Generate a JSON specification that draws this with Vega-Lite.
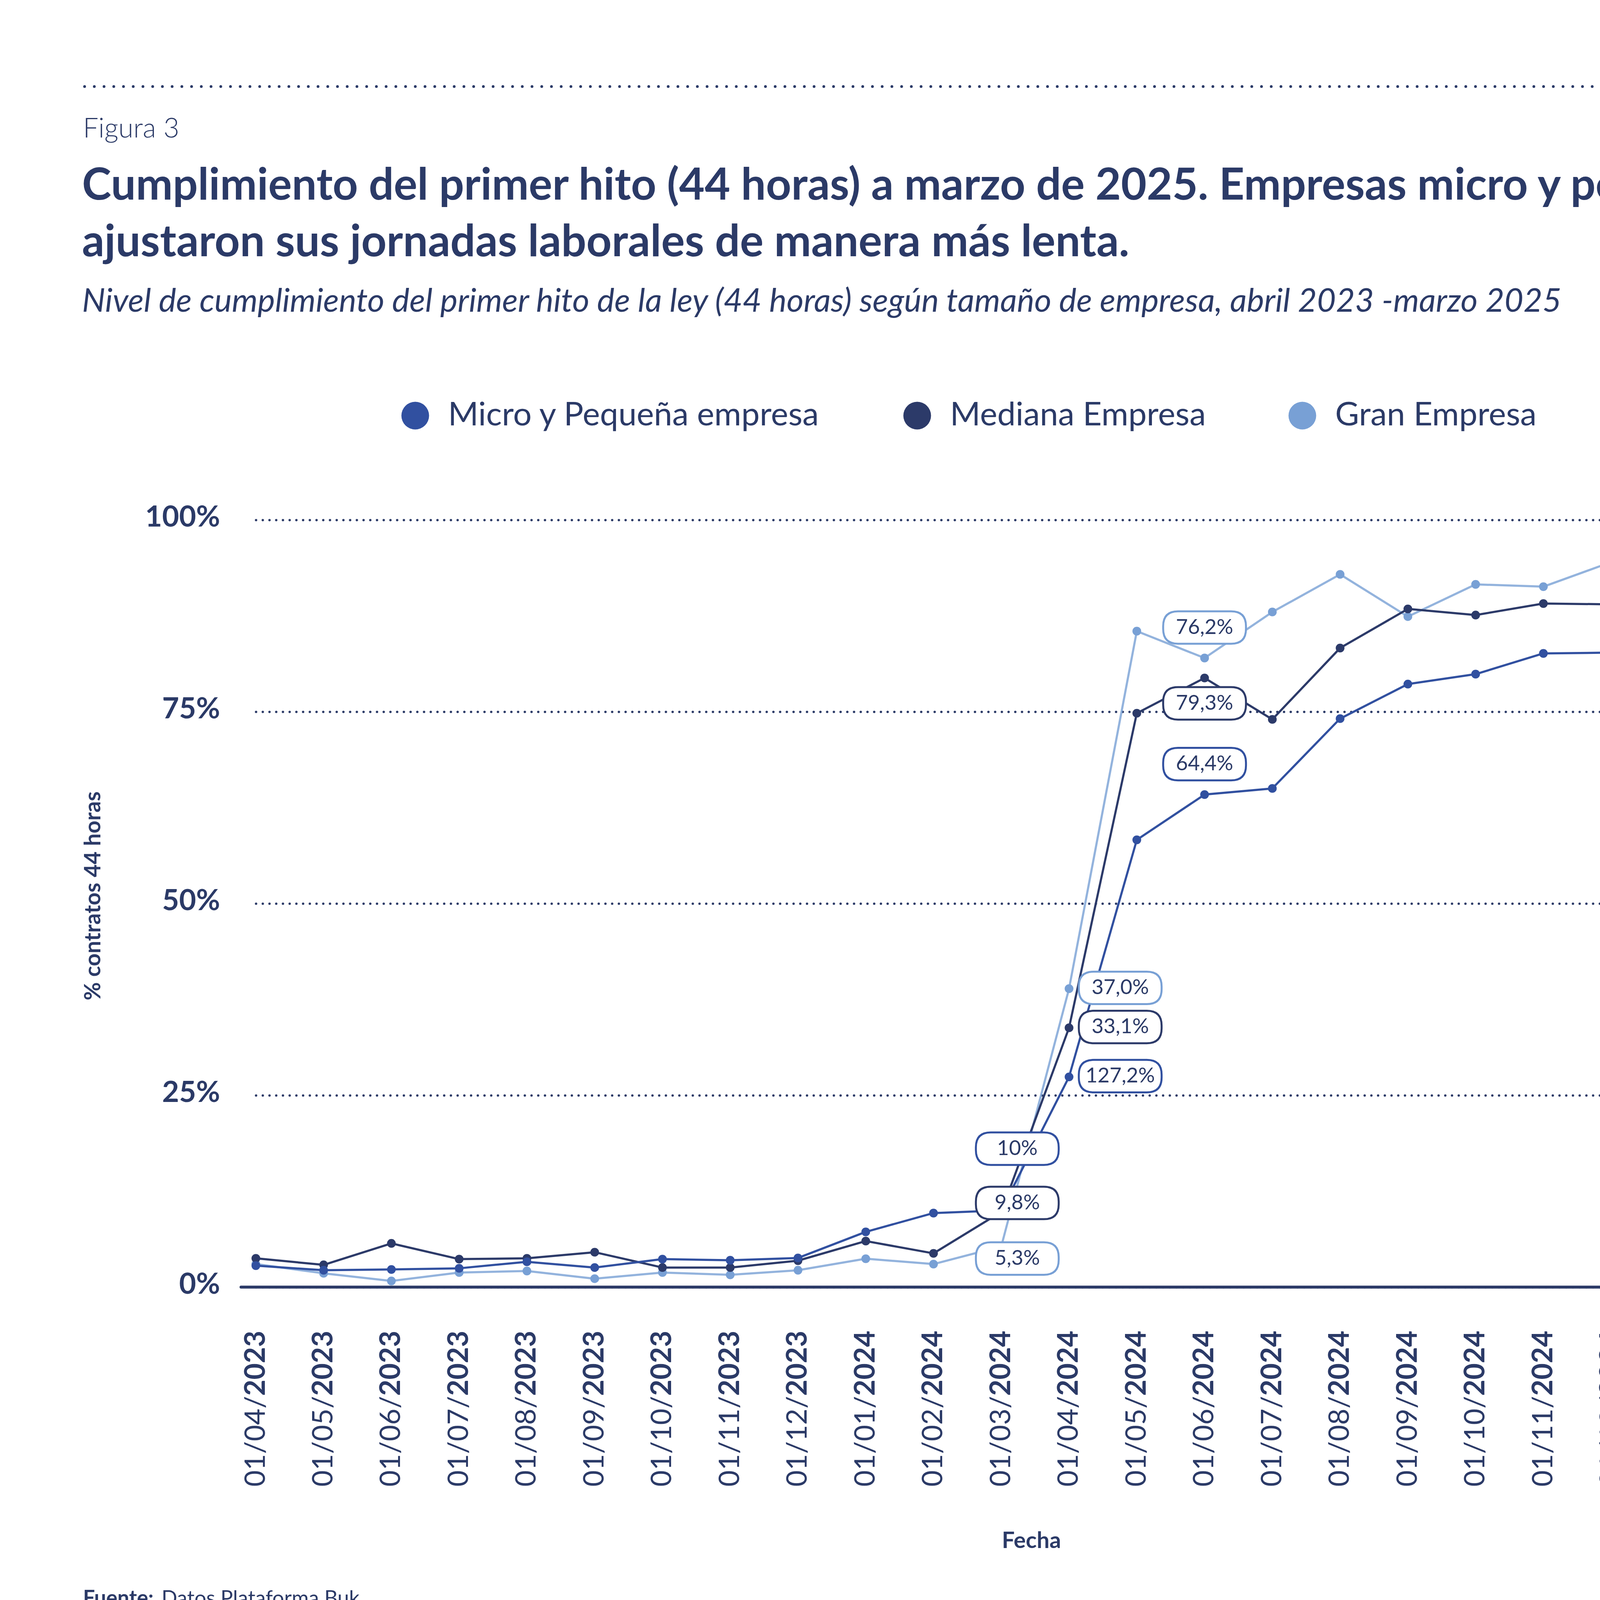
{
  "$schema": "https://vega.github.io/schema/vega-lite/v6.json",
  "background": "white",
  "autosize": {"type": "none"},
  "padding": {"left": 617, "top": 1331, "right": 338, "bottom": 1074},
  "width": 4045,
  "height": 1964,
  "config": {
    "font": "Lato",
    "view": {"stroke": null},
    "axis": {"labelColor": "#2B3A67", "titleColor": "#2B3A67", "labelLimit": 0}
  },
  "title": {
    "text": ["Cumplimiento del primer hito (44 horas) a marzo de 2025. Empresas micro y pequeñas", "ajustaron sus jornadas laborales de manera más lenta."],
    "subtitle": "Nivel de cumplimiento del primer hito de la ley (44 horas) según tamaño de empresa, abril 2023 -marzo 2025",
    "anchor": "start", "frame": "group", "dx": -407,
    "fontSize": 113, "fontWeight": "bold", "lineHeight": 145, "color": "#2B3A67",
    "subtitleFontSize": 84, "subtitleFontStyle": "italic", "subtitleColor": "#2B3A67", "subtitlePadding": 52,
    "offset": -595
  },
  "data": {"values": [
    {"fecha":"01/04/2023","serie":"Gran Empresa","valor":3.0},
    {"fecha":"01/05/2023","serie":"Gran Empresa","valor":1.8},
    {"fecha":"01/06/2023","serie":"Gran Empresa","valor":0.8},
    {"fecha":"01/07/2023","serie":"Gran Empresa","valor":1.9},
    {"fecha":"01/08/2023","serie":"Gran Empresa","valor":2.1},
    {"fecha":"01/09/2023","serie":"Gran Empresa","valor":1.1},
    {"fecha":"01/10/2023","serie":"Gran Empresa","valor":1.9},
    {"fecha":"01/11/2023","serie":"Gran Empresa","valor":1.6},
    {"fecha":"01/12/2023","serie":"Gran Empresa","valor":2.2},
    {"fecha":"01/01/2024","serie":"Gran Empresa","valor":3.7},
    {"fecha":"01/02/2024","serie":"Gran Empresa","valor":3.0},
    {"fecha":"01/03/2024","serie":"Gran Empresa","valor":5.3,"etiqueta":"5,3%"},
    {"fecha":"01/04/2024","serie":"Gran Empresa","valor":38.9,"etiqueta":"37,0%"},
    {"fecha":"01/05/2024","serie":"Gran Empresa","valor":85.5},
    {"fecha":"01/06/2024","serie":"Gran Empresa","valor":82.0,"etiqueta":"76,2%"},
    {"fecha":"01/07/2024","serie":"Gran Empresa","valor":88.0},
    {"fecha":"01/08/2024","serie":"Gran Empresa","valor":92.9},
    {"fecha":"01/09/2024","serie":"Gran Empresa","valor":87.4},
    {"fecha":"01/10/2024","serie":"Gran Empresa","valor":91.6},
    {"fecha":"01/11/2024","serie":"Gran Empresa","valor":91.3},
    {"fecha":"01/12/2024","serie":"Gran Empresa","valor":94.5},
    {"fecha":"01/01/2025","serie":"Gran Empresa","valor":93.3},
    {"fecha":"01/02/2025","serie":"Gran Empresa","valor":93.4},
    {"fecha":"01/03/2025","serie":"Gran Empresa","valor":95.3,"etiqueta":"95,2%"},
    {"fecha":"01/04/2023","serie":"Mediana Empresa","valor":3.75},
    {"fecha":"01/05/2023","serie":"Mediana Empresa","valor":2.9},
    {"fecha":"01/06/2023","serie":"Mediana Empresa","valor":5.7},
    {"fecha":"01/07/2023","serie":"Mediana Empresa","valor":3.65},
    {"fecha":"01/08/2023","serie":"Mediana Empresa","valor":3.75},
    {"fecha":"01/09/2023","serie":"Mediana Empresa","valor":4.55},
    {"fecha":"01/10/2023","serie":"Mediana Empresa","valor":2.55},
    {"fecha":"01/11/2023","serie":"Mediana Empresa","valor":2.55},
    {"fecha":"01/12/2023","serie":"Mediana Empresa","valor":3.45},
    {"fecha":"01/01/2024","serie":"Mediana Empresa","valor":6.0},
    {"fecha":"01/02/2024","serie":"Mediana Empresa","valor":4.4},
    {"fecha":"01/03/2024","serie":"Mediana Empresa","valor":9.8,"etiqueta":"9,8%"},
    {"fecha":"01/04/2024","serie":"Mediana Empresa","valor":33.8,"etiqueta":"33,1%"},
    {"fecha":"01/05/2024","serie":"Mediana Empresa","valor":74.8},
    {"fecha":"01/06/2024","serie":"Mediana Empresa","valor":79.4,"etiqueta":"79,3%"},
    {"fecha":"01/07/2024","serie":"Mediana Empresa","valor":74.0},
    {"fecha":"01/08/2024","serie":"Mediana Empresa","valor":83.3},
    {"fecha":"01/09/2024","serie":"Mediana Empresa","valor":88.4},
    {"fecha":"01/10/2024","serie":"Mediana Empresa","valor":87.6},
    {"fecha":"01/11/2024","serie":"Mediana Empresa","valor":89.1},
    {"fecha":"01/12/2024","serie":"Mediana Empresa","valor":89.0},
    {"fecha":"01/01/2025","serie":"Mediana Empresa","valor":84.1},
    {"fecha":"01/02/2025","serie":"Mediana Empresa","valor":90.6},
    {"fecha":"01/03/2025","serie":"Mediana Empresa","valor":90.3,"etiqueta":"90,0%"},
    {"fecha":"01/04/2023","serie":"Micro y Pequeña empresa","valor":2.8},
    {"fecha":"01/05/2023","serie":"Micro y Pequeña empresa","valor":2.2},
    {"fecha":"01/06/2023","serie":"Micro y Pequeña empresa","valor":2.3},
    {"fecha":"01/07/2023","serie":"Micro y Pequeña empresa","valor":2.45},
    {"fecha":"01/08/2023","serie":"Micro y Pequeña empresa","valor":3.3},
    {"fecha":"01/09/2023","serie":"Micro y Pequeña empresa","valor":2.55},
    {"fecha":"01/10/2023","serie":"Micro y Pequeña empresa","valor":3.65},
    {"fecha":"01/11/2023","serie":"Micro y Pequeña empresa","valor":3.5},
    {"fecha":"01/12/2023","serie":"Micro y Pequeña empresa","valor":3.8},
    {"fecha":"01/01/2024","serie":"Micro y Pequeña empresa","valor":7.2},
    {"fecha":"01/02/2024","serie":"Micro y Pequeña empresa","valor":9.65},
    {"fecha":"01/03/2024","serie":"Micro y Pequeña empresa","valor":10.0,"etiqueta":"10%"},
    {"fecha":"01/04/2024","serie":"Micro y Pequeña empresa","valor":27.4,"etiqueta":"127,2%"},
    {"fecha":"01/05/2024","serie":"Micro y Pequeña empresa","valor":58.3},
    {"fecha":"01/06/2024","serie":"Micro y Pequeña empresa","valor":64.2,"etiqueta":"64,4%"},
    {"fecha":"01/07/2024","serie":"Micro y Pequeña empresa","valor":65.0},
    {"fecha":"01/08/2024","serie":"Micro y Pequeña empresa","valor":74.1},
    {"fecha":"01/09/2024","serie":"Micro y Pequeña empresa","valor":78.6},
    {"fecha":"01/10/2024","serie":"Micro y Pequeña empresa","valor":79.9},
    {"fecha":"01/11/2024","serie":"Micro y Pequeña empresa","valor":82.6},
    {"fecha":"01/12/2024","serie":"Micro y Pequeña empresa","valor":82.7},
    {"fecha":"01/01/2025","serie":"Micro y Pequeña empresa","valor":74.1},
    {"fecha":"01/02/2025","serie":"Micro y Pequeña empresa","valor":83.4},
    {"fecha":"01/03/2025","serie":"Micro y Pequeña empresa","valor":84.4,"etiqueta":"84,8%"}
  ]},
  "layer": [
    {
      "data": {"values": [{}]},
      "mark": {"type": "rule", "opacity": 0},
      "encoding": {
        "x": {"datum": 0.5, "type": "quantitative", "scale": {"domain": [0, 1], "range": [-401, 4161]},
          "axis": {"orient": "top", "offset": 1110, "labels": false, "ticks": false, "grid": false,
            "domain": true, "domainColor": "#2B3A67", "domainWidth": 7, "domainDash": [0.1, 24.8], "domainCap": "round",
            "title": "Figura 3", "titleFontSize": 70, "titleFontWeight": 300, "titleX": -405, "titleY": 130, "titleAlign": "left", "titleBaseline": "alphabetic", "titleAngle": 0}}
      }
    },
    {
      "mark": {"type": "line", "strokeWidth": 5.5, "strokeCap": "round", "strokeJoin": "round"},
      "encoding": {
        "x": {"field": "fecha", "type": "ordinal", "sort": null,
          "scale": {"type": "point", "domain": ["01/04/2023","01/05/2023","01/06/2023","01/07/2023","01/08/2023","01/09/2023","01/10/2023","01/11/2023","01/12/2023","01/01/2024","01/02/2024","01/03/2024","01/04/2024","01/05/2024","01/06/2024","01/07/2024","01/08/2024","01/09/2024","01/10/2024","01/11/2024","01/12/2024","01/01/2025","01/02/2025","01/03/2025"], "range": [38, 4028], "padding": 0},
          "axis": {"orient": "bottom", "labelExpr": "slice(datum.label, 6)", "labelAngle": 270, "labelAlign": "right", "labelBaseline": "middle", "labelFontWeight": "bold", "labelFontSize": 72, "labelPadding": 111, "ticks": false, "domain": false, "grid": false, "labelOverlap": false, "labelBound": false, "labelFlush": false,
            "title": "Fecha", "titleFontSize": 58, "titleFontWeight": "bold", "titleX": 2023, "titleY": 667, "titleBaseline": "alphabetic", "titleAlign": "center"}},
        "y": {"field": "valor", "type": "quantitative", "scale": {"domain": [0, 100], "nice": false, "zero": true},
          "axis": {"orient": "left", "values": [0, 25, 50, 75, 100], "labelExpr": "datum.value + '%'", "labelFontWeight": "bold", "labelFontSize": 75, "labelPadding": 54, "labelBaseline": "alphabetic", "labelOffset": 16, "ticks": false, "domain": false,
            "grid": true, "gridColor": "#2B3A67", "gridDash": [0.1, 17.1], "gridWidth": 6, "gridCap": "round", "gridOpacity": 1,
            "title": "% contratos 44 horas", "titleFontSize": 57, "titleFontWeight": "bold", "titleAngle": 270, "titleX": -361, "titleY": 962, "titleAlign": "center", "titleBaseline": "alphabetic"}},
        "stroke": {"field": "serie", "type": "nominal", "scale": {"domain": ["Gran Empresa", "Mediana Empresa", "Micro y Pequeña empresa"], "range": ["#78A0D5", "#2C3A69", "#3150A0"]}, "legend": null},
        "opacity": {"condition": {"test": "datum.serie == 'Gran Empresa'", "value": 0.8}, "value": 1}
      }
    },
    {
      "data": {"values": [{}]},
      "mark": {"type": "rule", "strokeWidth": 7.5, "strokeCap": "round", "color": "#2B3A67"},
      "encoding": {"y": {"datum": 0, "type": "quantitative", "axis": null}}
    },
    {
      "mark": {"type": "circle", "size": 500, "opacity": 1},
      "encoding": {
        "x": {"field": "fecha", "type": "ordinal", "sort": null,
          "scale": {"type": "point", "domain": ["01/04/2023","01/05/2023","01/06/2023","01/07/2023","01/08/2023","01/09/2023","01/10/2023","01/11/2023","01/12/2023","01/01/2024","01/02/2024","01/03/2024","01/04/2024","01/05/2024","01/06/2024","01/07/2024","01/08/2024","01/09/2024","01/10/2024","01/11/2024","01/12/2024","01/01/2025","01/02/2025","01/03/2025"], "range": [38, 4028], "padding": 0},
          "axis": {"orient": "bottom", "labelExpr": "slice(datum.label, 0, 6)", "labelAngle": 270, "labelAlign": "right", "labelBaseline": "middle", "labelFontWeight": "normal", "labelFontSize": 72, "labelPadding": 278, "ticks": false, "domain": false, "grid": false, "labelOverlap": false, "labelBound": false, "labelFlush": false,
            "title": "Fuente:", "titleFontSize": 54, "titleFontWeight": "bold", "titleX": -405, "titleY": 813, "titleBaseline": "alphabetic", "titleAlign": "left"}},
        "y": {"field": "valor", "type": "quantitative",
          "axis": {"orient": "right", "labels": false, "ticks": false, "domain": false, "grid": false,
            "title": "Datos Plataforma Buk.", "titleFontSize": 53, "titleFontWeight": "normal", "titleAngle": 0, "titleX": -4249, "titleY": 2777, "titleAlign": "left", "titleBaseline": "alphabetic"}},
        "fill": {"field": "serie", "type": "nominal", "scale": {"domain": ["Micro y Pequeña empresa", "Mediana Empresa", "Gran Empresa"], "range": ["#3150A0", "#2C3A69", "#78A0D5"]},
          "legend": {"orient": "none", "legendX": 404, "legendY": -309, "direction": "horizontal", "title": null, "symbolType": "circle", "symbolSize": 5026, "symbolStrokeWidth": 0, "symbolOpacity": 1, "labelFontSize": 84, "labelColor": "#2B3A67", "labelOffset": 42, "columnPadding": 205, "padding": 0, "labelLimit": 0}}
      }
    },
    {
      "transform": [{"filter": "(datum.serie == 'Gran Empresa' && (datum.fecha == '01/03/2025' || datum.fecha == '01/06/2024')) || (datum.serie == 'Micro y Pequeña empresa' && datum.fecha == '01/06/2024')"}],
      "encoding": {
        "x": {"field": "fecha", "type": "ordinal", "sort": null, "scale": {"type": "point", "domain": ["01/04/2023","01/05/2023","01/06/2023","01/07/2023","01/08/2023","01/09/2023","01/10/2023","01/11/2023","01/12/2023","01/01/2024","01/02/2024","01/03/2024","01/04/2024","01/05/2024","01/06/2024","01/07/2024","01/08/2024","01/09/2024","01/10/2024","01/11/2024","01/12/2024","01/01/2025","01/02/2025","01/03/2025"], "range": [38, 4028], "padding": 0}, "axis": null},
        "y": {"field": "valor", "type": "quantitative", "axis": null}
      },
      "layer": [
        {"mark": {"type": "point", "shape": "M-0.642,-0.392L0.642,-0.392Q1,-0.392 1,-0.034L1,0.034Q1,0.392 0.642,0.392L-0.642,0.392Q-1,0.392 -1,0.034L-1,-0.034Q-1,-0.392 -0.642,-0.392Z", "size": 44944, "filled": false, "fill": "white", "fillOpacity": 1, "strokeWidth": 5, "opacity": 1, "yOffset": -78},
         "encoding": {"stroke": {"field": "serie", "type": "nominal", "scale": {"domain": ["Gran Empresa", "Mediana Empresa", "Micro y Pequeña empresa"], "range": ["#78A0D5", "#2C3A69", "#3150A0"]}, "legend": null}}},
        {"mark": {"type": "text", "fontSize": 53, "color": "#2B3A67", "align": "center", "baseline": "middle", "yOffset": -78}, "encoding": {"text": {"field": "etiqueta"}}}
      ]
    },
    {
      "transform": [{"filter": "(datum.serie == 'Mediana Empresa' && datum.fecha == '01/06/2024') || (datum.serie == 'Micro y Pequeña empresa' && datum.fecha == '01/03/2025')"}],
      "encoding": {
        "x": {"field": "fecha", "type": "ordinal", "sort": null, "scale": {"type": "point", "domain": ["01/04/2023","01/05/2023","01/06/2023","01/07/2023","01/08/2023","01/09/2023","01/10/2023","01/11/2023","01/12/2023","01/01/2024","01/02/2024","01/03/2024","01/04/2024","01/05/2024","01/06/2024","01/07/2024","01/08/2024","01/09/2024","01/10/2024","01/11/2024","01/12/2024","01/01/2025","01/02/2025","01/03/2025"], "range": [38, 4028], "padding": 0}, "axis": null},
        "y": {"field": "valor", "type": "quantitative", "axis": null}
      },
      "layer": [
        {"mark": {"type": "point", "shape": "M-0.642,-0.392L0.642,-0.392Q1,-0.392 1,-0.034L1,0.034Q1,0.392 0.642,0.392L-0.642,0.392Q-1,0.392 -1,0.034L-1,-0.034Q-1,-0.392 -0.642,-0.392Z", "size": 44944, "filled": false, "fill": "white", "fillOpacity": 1, "strokeWidth": 5, "opacity": 1, "yOffset": 65},
         "encoding": {"stroke": {"field": "serie", "type": "nominal", "scale": {"domain": ["Gran Empresa", "Mediana Empresa", "Micro y Pequeña empresa"], "range": ["#78A0D5", "#2C3A69", "#3150A0"]}, "legend": null}}},
        {"mark": {"type": "text", "fontSize": 53, "color": "#2B3A67", "align": "center", "baseline": "middle", "yOffset": 65}, "encoding": {"text": {"field": "etiqueta"}}}
      ]
    },
    {
      "transform": [{"filter": "datum.serie == 'Mediana Empresa' && datum.fecha == '01/03/2025'"}],
      "encoding": {
        "x": {"field": "fecha", "type": "ordinal", "sort": null, "scale": {"type": "point", "domain": ["01/04/2023","01/05/2023","01/06/2023","01/07/2023","01/08/2023","01/09/2023","01/10/2023","01/11/2023","01/12/2023","01/01/2024","01/02/2024","01/03/2024","01/04/2024","01/05/2024","01/06/2024","01/07/2024","01/08/2024","01/09/2024","01/10/2024","01/11/2024","01/12/2024","01/01/2025","01/02/2025","01/03/2025"], "range": [38, 4028], "padding": 0}, "axis": null},
        "y": {"field": "valor", "type": "quantitative", "axis": null}
      },
      "layer": [
        {"mark": {"type": "point", "shape": "M-0.642,-0.392L0.642,-0.392Q1,-0.392 1,-0.034L1,0.034Q1,0.392 0.642,0.392L-0.642,0.392Q-1,0.392 -1,0.034L-1,-0.034Q-1,-0.392 -0.642,-0.392Z", "size": 44944, "filled": false, "fill": "white", "fillOpacity": 1, "strokeWidth": 5, "opacity": 1, "xOffset": -12, "yOffset": -45},
         "encoding": {"stroke": {"field": "serie", "type": "nominal", "scale": {"domain": ["Gran Empresa", "Mediana Empresa", "Micro y Pequeña empresa"], "range": ["#78A0D5", "#2C3A69", "#3150A0"]}, "legend": null}}},
        {"mark": {"type": "text", "fontSize": 53, "color": "#2B3A67", "align": "center", "baseline": "middle", "xOffset": -12, "yOffset": -45}, "encoding": {"text": {"field": "etiqueta"}}}
      ]
    },
    {
      "transform": [{"filter": "datum.fecha == '01/04/2024'"}],
      "encoding": {
        "x": {"field": "fecha", "type": "ordinal", "sort": null, "scale": {"type": "point", "domain": ["01/04/2023","01/05/2023","01/06/2023","01/07/2023","01/08/2023","01/09/2023","01/10/2023","01/11/2023","01/12/2023","01/01/2024","01/02/2024","01/03/2024","01/04/2024","01/05/2024","01/06/2024","01/07/2024","01/08/2024","01/09/2024","01/10/2024","01/11/2024","01/12/2024","01/01/2025","01/02/2025","01/03/2025"], "range": [38, 4028], "padding": 0}, "axis": null},
        "y": {"field": "valor", "type": "quantitative", "axis": null}
      },
      "layer": [
        {"mark": {"type": "point", "shape": "M-0.642,-0.392L0.642,-0.392Q1,-0.392 1,-0.034L1,0.034Q1,0.392 0.642,0.392L-0.642,0.392Q-1,0.392 -1,0.034L-1,-0.034Q-1,-0.392 -0.642,-0.392Z", "size": 44944, "filled": false, "fill": "white", "fillOpacity": 1, "strokeWidth": 5, "opacity": 1, "xOffset": 131, "yOffset": -2},
         "encoding": {"stroke": {"field": "serie", "type": "nominal", "scale": {"domain": ["Gran Empresa", "Mediana Empresa", "Micro y Pequeña empresa"], "range": ["#78A0D5", "#2C3A69", "#3150A0"]}, "legend": null}}},
        {"mark": {"type": "text", "fontSize": 53, "color": "#2B3A67", "align": "center", "baseline": "middle", "xOffset": 131, "yOffset": -2}, "encoding": {"text": {"field": "etiqueta"}}}
      ]
    },
    {
      "transform": [{"filter": "datum.serie == 'Micro y Pequeña empresa' && datum.fecha == '01/03/2024'"}],
      "encoding": {
        "x": {"field": "fecha", "type": "ordinal", "sort": null, "scale": {"type": "point", "domain": ["01/04/2023","01/05/2023","01/06/2023","01/07/2023","01/08/2023","01/09/2023","01/10/2023","01/11/2023","01/12/2023","01/01/2024","01/02/2024","01/03/2024","01/04/2024","01/05/2024","01/06/2024","01/07/2024","01/08/2024","01/09/2024","01/10/2024","01/11/2024","01/12/2024","01/01/2025","01/02/2025","01/03/2025"], "range": [38, 4028], "padding": 0}, "axis": null},
        "y": {"field": "valor", "type": "quantitative", "axis": null}
      },
      "layer": [
        {"mark": {"type": "point", "shape": "M-0.642,-0.392L0.642,-0.392Q1,-0.392 1,-0.034L1,0.034Q1,0.392 0.642,0.392L-0.642,0.392Q-1,0.392 -1,0.034L-1,-0.034Q-1,-0.392 -0.642,-0.392Z", "size": 44944, "filled": false, "fill": "white", "fillOpacity": 1, "strokeWidth": 5, "opacity": 1, "xOffset": 41, "yOffset": -158},
         "encoding": {"stroke": {"field": "serie", "type": "nominal", "scale": {"domain": ["Gran Empresa", "Mediana Empresa", "Micro y Pequeña empresa"], "range": ["#78A0D5", "#2C3A69", "#3150A0"]}, "legend": null}}},
        {"mark": {"type": "text", "fontSize": 53, "color": "#2B3A67", "align": "center", "baseline": "middle", "xOffset": 41, "yOffset": -158}, "encoding": {"text": {"field": "etiqueta"}}}
      ]
    },
    {
      "transform": [{"filter": "datum.serie == 'Mediana Empresa' && datum.fecha == '01/03/2024'"}],
      "encoding": {
        "x": {"field": "fecha", "type": "ordinal", "sort": null, "scale": {"type": "point", "domain": ["01/04/2023","01/05/2023","01/06/2023","01/07/2023","01/08/2023","01/09/2023","01/10/2023","01/11/2023","01/12/2023","01/01/2024","01/02/2024","01/03/2024","01/04/2024","01/05/2024","01/06/2024","01/07/2024","01/08/2024","01/09/2024","01/10/2024","01/11/2024","01/12/2024","01/01/2025","01/02/2025","01/03/2025"], "range": [38, 4028], "padding": 0}, "axis": null},
        "y": {"field": "valor", "type": "quantitative", "axis": null}
      },
      "layer": [
        {"mark": {"type": "point", "shape": "M-0.642,-0.392L0.642,-0.392Q1,-0.392 1,-0.034L1,0.034Q1,0.392 0.642,0.392L-0.642,0.392Q-1,0.392 -1,0.034L-1,-0.034Q-1,-0.392 -0.642,-0.392Z", "size": 44944, "filled": false, "fill": "white", "fillOpacity": 1, "strokeWidth": 5, "opacity": 1, "xOffset": 41, "yOffset": -23},
         "encoding": {"stroke": {"field": "serie", "type": "nominal", "scale": {"domain": ["Gran Empresa", "Mediana Empresa", "Micro y Pequeña empresa"], "range": ["#78A0D5", "#2C3A69", "#3150A0"]}, "legend": null}}},
        {"mark": {"type": "text", "fontSize": 53, "color": "#2B3A67", "align": "center", "baseline": "middle", "xOffset": 41, "yOffset": -23}, "encoding": {"text": {"field": "etiqueta"}}}
      ]
    },
    {
      "transform": [{"filter": "datum.serie == 'Gran Empresa' && datum.fecha == '01/03/2024'"}],
      "encoding": {
        "x": {"field": "fecha", "type": "ordinal", "sort": null, "scale": {"type": "point", "domain": ["01/04/2023","01/05/2023","01/06/2023","01/07/2023","01/08/2023","01/09/2023","01/10/2023","01/11/2023","01/12/2023","01/01/2024","01/02/2024","01/03/2024","01/04/2024","01/05/2024","01/06/2024","01/07/2024","01/08/2024","01/09/2024","01/10/2024","01/11/2024","01/12/2024","01/01/2025","01/02/2025","01/03/2025"], "range": [38, 4028], "padding": 0}, "axis": null},
        "y": {"field": "valor", "type": "quantitative", "axis": null}
      },
      "layer": [
        {"mark": {"type": "point", "shape": "M-0.642,-0.392L0.642,-0.392Q1,-0.392 1,-0.034L1,0.034Q1,0.392 0.642,0.392L-0.642,0.392Q-1,0.392 -1,0.034L-1,-0.034Q-1,-0.392 -0.642,-0.392Z", "size": 44944, "filled": false, "fill": "white", "fillOpacity": 1, "strokeWidth": 5, "opacity": 1, "xOffset": 41, "yOffset": 31},
         "encoding": {"stroke": {"field": "serie", "type": "nominal", "scale": {"domain": ["Gran Empresa", "Mediana Empresa", "Micro y Pequeña empresa"], "range": ["#78A0D5", "#2C3A69", "#3150A0"]}, "legend": null}}},
        {"mark": {"type": "text", "fontSize": 53, "color": "#2B3A67", "align": "center", "baseline": "middle", "xOffset": 41, "yOffset": 31}, "encoding": {"text": {"field": "etiqueta"}}}
      ]
    }
  ],
  "resolve": {"scale": {"x": "independent", "y": "shared"}, "axis": {"x": "independent", "y": "independent"}}
}
